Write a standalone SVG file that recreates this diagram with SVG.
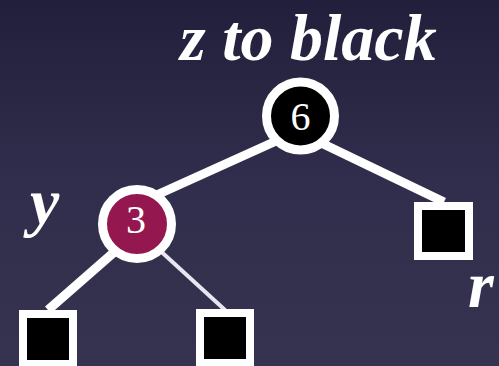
<svg xmlns="http://www.w3.org/2000/svg" width="499" height="366" viewBox="0 0 499 366">
<defs>
<linearGradient id="bg" x1="0" y1="0" x2="0" y2="1">
<stop offset="0" stop-color="#211f3b"/>
<stop offset="0.5" stop-color="#312e4d"/>
<stop offset="1" stop-color="#35334f"/>
</linearGradient>
<style>
.lbl{font-family:"Liberation Serif","Times New Roman",serif;font-weight:bold;font-style:italic;fill:#fff;font-size:66px}
.num{font-family:"Liberation Serif","Times New Roman",serif;fill:#fff;font-size:40px;text-anchor:middle}
.node{stroke:#fff;stroke-width:9}
.leaf{fill:#000;stroke:#fff;stroke-width:8}
.edge{stroke:#fff;stroke-width:9;fill:none}
.thin{stroke:#e8e6f0;stroke-width:4;fill:none}
</style>
</defs>
<rect width="499" height="366" fill="url(#bg)"/>
<text class="lbl" x="180" y="60">z to black</text>
<text class="lbl" x="30" y="224">y</text>
<text class="lbl" x="468" y="307">r</text>
<g id="connectors">
<line class="edge" x1="285" y1="137" x2="150" y2="198"/>
<line class="edge" x1="315" y1="140" x2="444" y2="202"/>
<line class="edge" x1="120" y1="247" x2="48" y2="310"/>
<line class="thin" x1="155" y1="246" x2="225" y2="310"/>
</g>
<g id="n6">
<circle class="node" cx="300.5" cy="116" r="34" fill="#000"/>
<text class="num" x="300.5" y="130">6</text>
</g>
<g id="n3">
<circle class="node" cx="137" cy="224" r="34.5" fill="#95174f"/>
<text class="num" x="136" y="233">3</text>
</g>
<g id="r">
<rect class="leaf" x="418" y="206" width="51" height="50"/>
</g>
<g id="leaf1">
<rect class="leaf" x="23" y="314" width="50" height="50"/>
</g>
<g id="leaf2">
<rect class="leaf" x="200" y="313" width="50" height="50"/>
</g>
</svg>
